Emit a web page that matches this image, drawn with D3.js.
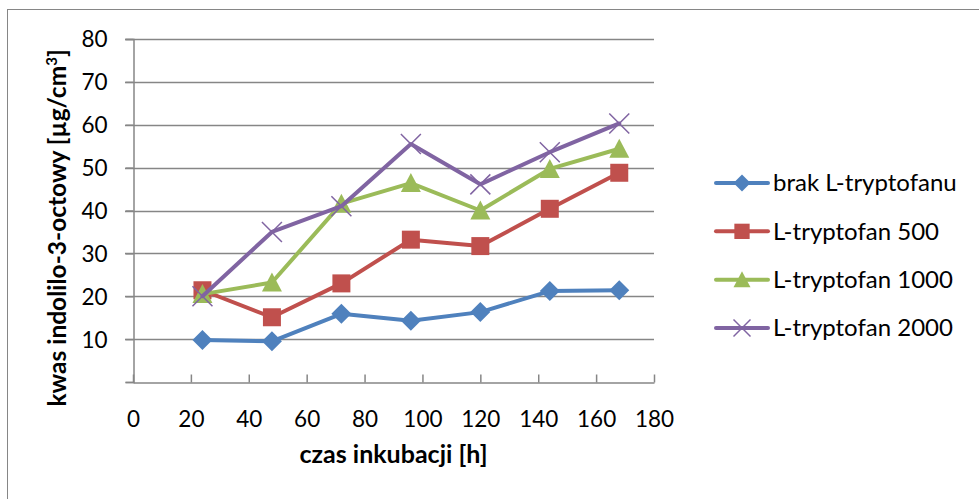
<!DOCTYPE html>
<html>
<head>
<meta charset="utf-8">
<script src="https://cdn.jsdelivr.net/npm/d3@7"></script>
<style>
  body { margin: 0; background: #fff; }
  text { font-family: Lato, "Open Sans", sans-serif; fill: #000; }
</style>
</head>
<body>
<div id="chart"></div>
<script>
// hours of incubation
var hours = [24, 48, 72, 96, 120, 144, 168];
var seriesNames = ["brak L-tryptofanu", "L-tryptofan 500", "L-tryptofan 1000", "L-tryptofan 2000"];
var brak = [9.8, 9.5, 15.9, 14.3, 16.3, 21.2, 21.4];
var tryp500 = [21.4, 15.1, 23.0, 33.2, 31.7, 40.4, 48.8];
var tryp1000 = [20.5, 23.2, 41.6, 46.4, 40.0, 49.7, 54.4];
var tryp2000 = [20.0, 35.0, 41.0, 55.5, 46.1, 53.6, 60.3];
var xTicks = [0, 20, 40, 60, 80, 100, 120, 140, 160, 180];
var yTicks = [10, 20, 30, 40, 50, 60, 70, 80];

var colors = ["#4F81BD", "#C0504D", "#9BBB59", "#8064A2"];
var allSeries = [brak, tryp500, tryp1000, tryp2000];

var width = 979, height = 499;
var plot = {left: 133, right: 654, top: 39, bottom: 382};

// excel-like marker shapes, r = half width
var shapes = [
  function(r){ return "M0," + (-r) + "L" + r + ",0L0," + r + "L" + (-r) + ",0Z" },
  function(r){ r = r * 0.9; return "M" + (-r) + "," + (-r) + "H" + r + "V" + r + "H" + (-r) + "Z" },
  function(r){ return "M0," + (-r) + "L" + r + "," + (r * 0.9) + "L" + (-r) + "," + (r * 0.9) + "Z" },
  function(r){ return "M" + (-r) + "," + (-r) + "L" + r + "," + r + "M" + (-r) + "," + r + "L" + r + "," + (-r) }
];

var svg = d3.select("#chart").append("svg")
    .attr("width", width)
    .attr("height", height);

// outer chart border
svg.append("rect")
    .attr("x", 7.5).attr("y", 9.5)
    .attr("width", 1000).attr("height", 600)
    .attr("fill", "none")
    .attr("stroke", "#868686")
    .attr("stroke-width", 1);

var x = d3.scaleLinear().domain([0, 180]).range([plot.left, plot.right]);
var y = d3.scaleLinear().domain([0, 80]).range([plot.bottom, plot.top]);

// gridlines
svg.append("g")
  .selectAll("line")
  .data(yTicks)
  .enter()
  .append("line")
    .attr("x1", x(0) - 8)
    .attr("x2", x(180))
    .attr("y1", function(d){ return Math.round(y(d)) + 0.5 })
    .attr("y2", function(d){ return Math.round(y(d)) + 0.5 })
    .attr("stroke", "#868686")
    .attr("stroke-width", 1.5);

// y axis
var yAxis = svg.append("g")
    .attr("transform", "translate(" + (x(0) + 0.5) + ",0)")
    .call(d3.axisLeft(y).tickValues(yTicks.concat([0])).tickSize(8).tickFormat(function(d){ return d === 0 ? "" : d }));
yAxis.select(".domain").attr("stroke", "#868686").attr("stroke-width", 1.5);
yAxis.selectAll(".tick line").attr("stroke", "#868686").attr("stroke-width", 1.5);
yAxis.selectAll(".tick text")
    .attr("x", -26)
    .attr("dy", "0.35em")
    .style("font-size", "22.5px")
    .style("font-family", "Lato, sans-serif")
    .attr("fill", "#000");

// x axis with inner ticks
var xAxis = svg.append("g")
    .attr("transform", "translate(0," + (y(0) + 0.5) + ")")
    .call(d3.axisBottom(x).tickValues(xTicks).tickSize(-8).tickSizeOuter(0));
xAxis.select(".domain").attr("stroke", "#868686").attr("stroke-width", 1.5);
xAxis.selectAll(".tick line").attr("stroke", "#868686").attr("stroke-width", 1.5);
xAxis.selectAll(".tick text")
    .attr("y", 37)
    .attr("dy", "0.35em")
    .style("font-size", "22.5px")
    .style("font-family", "Lato, sans-serif")
    .attr("fill", "#000");

// axis titles
svg.append("text")
    .attr("x", (plot.left + plot.right) / 2)
    .attr("y", 463)
    .attr("text-anchor", "middle")
    .attr("font-size", "25px")
    .attr("font-weight", "bold")
    .text("czas inkubacji [h]");

svg.append("text")
    .attr("transform", "translate(66," + 228 + ") rotate(-90)")
    .attr("text-anchor", "middle")
    .attr("font-size", "24.5px")
    .attr("font-weight", "bold")
    .html("kwas indolilo-3-octowy [µg/cm<tspan dy='-9' font-size='15px'>3</tspan><tspan dy='9'>]</tspan>");

var line = d3.line()
    .x(function(d, i){ return x(hours[i]) })
    .y(function(d){ return y(d) });

function drawMarker(g, k, cx, cy, r) {
  var p = g.append("path")
      .attr("d", shapes[k](r))
      .attr("transform", "translate(" + cx + "," + cy + ")");
  if (k === 3) {
    p.attr("fill", "none").attr("stroke", colors[k]).attr("stroke-width", 1.5);
  } else {
    p.attr("fill", colors[k]);
  }
}

allSeries.forEach(function(vals, k){
  var g = svg.append("g");
  g.append("path")
      .datum(vals)
      .attr("d", line)
      .attr("fill", "none")
      .attr("stroke", colors[k])
      .attr("stroke-width", 4)
      .attr("stroke-linejoin", "round")
      .attr("stroke-linecap", "round");
  vals.forEach(function(v, i){
    drawMarker(g, k, x(hours[i]), y(v), 10);
  });
});

// legend
var legendY = d3.scalePoint().domain(seriesNames).range([183, 328]);
seriesNames.forEach(function(name, k){
  var g = svg.append("g");
  var ly = legendY(name);
  g.append("line")
      .attr("x1", 716).attr("x2", 768)
      .attr("y1", ly).attr("y2", ly)
      .attr("stroke", colors[k])
      .attr("stroke-width", 4)
      .attr("stroke-linecap", "round");
  drawMarker(g, k, 742, ly, 8.5);
  g.append("text")
      .attr("x", 773)
      .attr("y", ly)
      .attr("dy", "0.35em")
      .attr("font-size", "24px")
      .text(name);
});
</script>
</body>
</html>
